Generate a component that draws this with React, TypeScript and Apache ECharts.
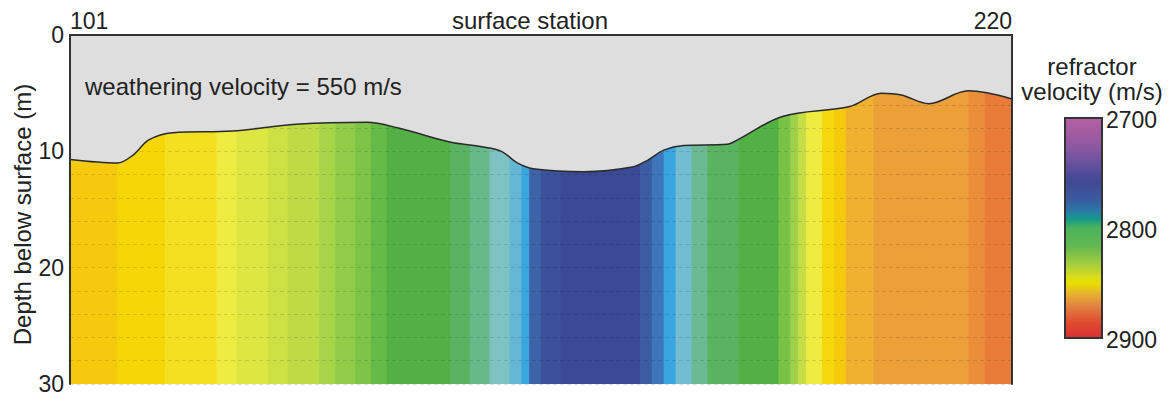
import { useEffect, useRef } from 'react';
import * as echarts from 'echarts';

// ---- data ----
const stationMin = 101;
const stationMax = 220;
const depthTicks = [0, 10, 20, 30];

// refractor velocity bands: start station of each band (band ends where the next starts)
const segStart = [101, 107, 113, 119.5, 122, 126, 128.5, 132.5, 134.5, 137, 139, 141, 149, 151.5, 154, 156.5, 158, 159, 160.5, 163, 173, 174.5, 176, 177.5, 179.5, 181.5, 185.5, 190.5, 192, 193, 194, 196, 197.5, 199, 202.5, 214.5, 216.5];
const segVelocity = [2853, 2849, 2845, 2840, 2835, 2830, 2826, 2820, 2816, 2812, 2806, 2800, 2795, 2788, 2781, 2776, 2770, 2760, 2753, 2750, 2757, 2763, 2770, 2778, 2787, 2795, 2800, 2811, 2818, 2828, 2840, 2848, 2853, 2860, 2870, 2875, 2880];

// refractor (base of weathering layer) depth
const refStation = [101, 107, 109, 111, 114, 121.5, 130, 138.5, 142.5, 149, 153, 155.5, 157.5, 159.5, 166, 172, 174, 176, 178.5, 184, 185.5, 191, 199.5, 203.5, 206, 209.5, 214.5, 220];
const refDepth = [10.7, 11.0, 10.3, 9.0, 8.4, 8.25, 7.65, 7.5, 8.0, 9.2, 9.6, 10.0, 11.0, 11.5, 11.75, 11.35, 10.75, 9.9, 9.5, 9.4, 8.95, 7.0, 6.15, 5.0, 5.15, 5.9, 4.8, 5.5];

const velMin = 2700;
const velMax = 2900;
const colorbarTicks = [2700, 2800, 2900];

// colours used for the velocity fill (2700..2900 every 10 m/s)
const plotPalette = [
  '#b060a0', '#9e5ca0', '#8a58a0', '#6a52a0', '#4f4c9a', '#3a4a94', '#3e62a8', '#3aa6e0', '#80c4cc', '#62b67a',
  '#52b045', '#74c048', '#a8d44a', '#cde044', '#eeec40', '#f7d400', '#f0b030', '#eba03a', '#e87c38', '#e05030', '#d83030',
];
// colours of the colour-bar legend (top = 2700, bottom = 2900)
const colorbarStops: [number, string][] = [
  [0, '#b460a4'], [0.1, '#9a5aa0'], [0.2, '#6c52a0'], [0.26, '#4a4a98'], [0.3, '#404a94'], [0.37, '#3a5aa0'],
  [0.42, '#2a78a8'], [0.46, '#159a8a'], [0.5, '#4db35b'], [0.58, '#60b850'], [0.66, '#a0cc40'], [0.72, '#d8dc20'],
  [0.75, '#e8e000'], [0.8, '#e8b030'], [0.86, '#e08040'], [0.93, '#e04a30'], [1, '#d83030'],
];

const FONT = '"Liberation Sans", Arial, Helvetica, sans-serif';
const TEXT = '#222';
const FRAME = '#333';

export default function App() {
  const ref = useRef<HTMLDivElement>(null);
  useEffect(() => {
    const chart = echarts.init(ref.current!, null, { renderer: 'svg' });

    const bands = segStart.map((s, i) => [s, i + 1 < segStart.length ? segStart[i + 1] : stationMax, segVelocity[i]]);
    const refractor = refStation.map((s, i) => [s, refDepth[i]]);

    const gridLeft = 70, gridTop = 35, gridW = 942, gridH = 349;
    const barX = 1065, barY = 118, barW = 37, barH = 220;

    const option: any = {
      animation: false,
      backgroundColor: '#fff',
      textStyle: { fontFamily: FONT },
      grid: { left: gridLeft, top: gridTop, width: gridW, height: gridH, containLabel: false, outerBoundsMode: 'none' },
      visualMap: {
        type: 'continuous', show: false, min: velMin, max: velMax, dimension: 2, seriesIndex: 0,
        inRange: { color: plotPalette },
      },
      xAxis: [
        {
          type: 'value', position: 'top', min: stationMin, max: stationMax, interval: stationMax - stationMin, z: 4,
          axisLine: { show: true, lineStyle: { color: FRAME, width: 2 } },
          axisTick: { show: false }, splitLine: { show: false },
          axisLabel: { fontSize: 23, color: TEXT, margin: 3, alignMinLabel: 'left', alignMaxLabel: 'right', fontFamily: FONT },
          name: 'surface station', nameLocation: 'middle', nameGap: 3, nameMoveOverlap: false,
          nameTextStyle: { fontSize: 24, color: TEXT, fontFamily: FONT, padding: [0, 22, 0, 0] },
        },
        {
          type: 'value', position: 'bottom', min: stationMin, max: stationMax, z: 4,
          axisLine: { show: true, lineStyle: { color: FRAME, width: 2 } },
          axisTick: { show: false }, axisLabel: { show: false }, splitLine: { show: false },
        },
      ],
      yAxis: [
        {
          type: 'value', inverse: true, min: depthTicks[0], max: depthTicks[depthTicks.length - 1], interval: 10, z: 4,
          position: 'left',
          axisLine: { show: true, lineStyle: { color: FRAME, width: 2 } },
          axisTick: { show: false }, splitLine: { show: false },
          axisLabel: { fontSize: 23, color: TEXT, margin: 6, fontFamily: FONT },
          name: 'Depth below surface (m)', nameLocation: 'middle', nameGap: 36, nameRotate: 90, nameMoveOverlap: false,
          nameTextStyle: { fontSize: 24, color: TEXT, fontFamily: FONT, padding: [0, 10, 0, 0] },
        },
        {
          type: 'value', inverse: true, min: 0, max: 30, position: 'right', z: 4,
          axisLine: { show: true, lineStyle: { color: FRAME, width: 2 } },
          axisTick: { show: false }, axisLabel: { show: false }, splitLine: { show: false },
        },
        {
          type: 'value', inverse: true, min: 0, max: 30, interval: 2, position: 'left', z: 2,
          axisLine: { show: false }, axisTick: { show: false }, axisLabel: { show: false },
          splitLine: { show: true, lineStyle: { color: 'rgba(0,0,0,0.12)', width: 1, type: [4, 3] } },
        },
      ],
      series: [
        {
          type: 'custom', z: 1, xAxisIndex: 0, yAxisIndex: 0,
          data: bands,
          encode: { x: [0, 1], y: 2 },
          renderItem: (_params: any, api: any) => {
            const p0 = api.coord([api.value(0), 0]);
            const p1 = api.coord([api.value(1), 30]);
            return {
              type: 'rect',
              shape: { x: p0[0], y: p0[1], width: p1[0] - p0[0] + 0.6, height: p1[1] - p0[1] },
              style: { fill: api.visual('color') },
            };
          },
        },
        {
          type: 'line', z: 3, xAxisIndex: 0, yAxisIndex: 0,
          data: refractor, smooth: 0.35, symbol: 'none',
          lineStyle: { color: '#2a2a2a', width: 1.5 },
          areaStyle: { color: '#dedede', opacity: 1, origin: 'start' },
        },
      ],
      graphic: [
        {
          type: 'text', left: 85, top: 74, z: 10,
          style: { text: 'weathering velocity = 550 m/s', fontSize: 24, fill: TEXT, fontFamily: FONT },
        },
        {
          type: 'text', x: 1092, y: 66, z: 10,
          style: { text: 'refractor', fontSize: 24, fill: TEXT, fontFamily: FONT, align: 'center', verticalAlign: 'middle', textAlign: 'center', textVerticalAlign: 'middle' },
        },
        {
          type: 'text', x: 1092, y: 91, z: 10,
          style: { text: 'velocity (m/s)', fontSize: 24, fill: TEXT, fontFamily: FONT, align: 'center', verticalAlign: 'middle', textAlign: 'center', textVerticalAlign: 'middle' },
        },
        {
          type: 'rect', z: 10, shape: { x: barX, y: barY, width: barW, height: barH },
          style: {
            fill: new echarts.graphic.LinearGradient(0, 0, 0, 1, colorbarStops.map(([offset, color]) => ({ offset, color }))),
            stroke: FRAME, lineWidth: 2,
          },
        },
        ...colorbarTicks.map((v) => ({
          type: 'text', z: 10, x: barX + barW + 4, y: barY + ((v - velMin) / (velMax - velMin)) * barH + 2,
          style: { text: String(v), fontSize: 23, fill: TEXT, fontFamily: FONT, align: 'left', verticalAlign: 'middle', textAlign: 'left', textVerticalAlign: 'middle' },
        })),
      ],
    };

    chart.setOption(option);
    return () => chart.dispose();
  }, []);
  return <div ref={ref} style={{ position: 'absolute', left: 0, top: 0, width: 1168, height: 401 }} />;
}
